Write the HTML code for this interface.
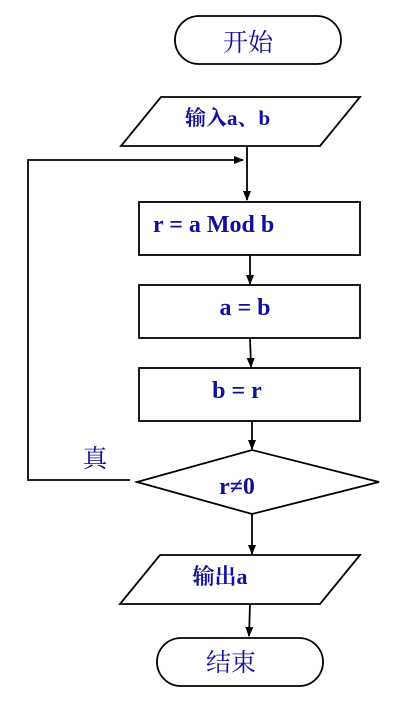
<!DOCTYPE html>
<html><head><meta charset="utf-8"><style>
html,body{margin:0;padding:0;background:#fff;}
svg{display:block;}
text{font-family:"Liberation Serif","Noto Serif CJK SC",serif;font-weight:bold;fill:#10109a;font-size:23px;}
</style></head><body>
<svg width="415" height="709" viewBox="0 0 415 709" xmlns="http://www.w3.org/2000/svg">
<defs><marker id="ah" markerWidth="10" markerHeight="10" refX="9" refY="5" orient="auto" markerUnits="userSpaceOnUse"><path d="M0,1 L10,5 L0,9 z" fill="#000"/></marker></defs>
<g stroke="#000" stroke-width="1.8" fill="none">
<rect x="175" y="16" width="166" height="48" rx="24"/>
<polygon points="161,97 360,97 320,146 121,146"/>
<line x1="247" y1="146" x2="247" y2="200" marker-end="url(#ah)"/>
<polyline points="130,480 28,480 28,160 243,160" marker-end="url(#ah)"/>
<rect x="139" y="202" width="221" height="53"/>
<line x1="250" y1="255" x2="250" y2="284" marker-end="url(#ah)"/>
<rect x="139" y="285" width="221" height="53"/>
<line x1="250" y1="338" x2="251" y2="367" marker-end="url(#ah)"/>
<rect x="139" y="368" width="221" height="53"/>
<line x1="252" y1="421" x2="252" y2="449" marker-end="url(#ah)"/>
<polygon points="137,482 252,450 379,482 252,514"/>
<line x1="252" y1="514" x2="252" y2="554" marker-end="url(#ah)"/>
<polygon points="160,555 360,555 320,604 120,604"/>
<line x1="250" y1="604" x2="249" y2="636" marker-end="url(#ah)"/>
<rect x="157" y="638" width="166" height="48" rx="24"/>
</g>
<text x="248" y="51" text-anchor="middle" style="font-weight:normal;font-size:25px">开始</text>
<text x="185" y="125" style="font-size:21px">输入a、b</text>
<text x="153" y="232" style="font-size:24px">r = a Mod b</text>
<text x="245" y="315" text-anchor="middle" style="font-size:24px">a = b</text>
<text x="237" y="398" text-anchor="middle" style="font-size:24px">b = r</text>
<text x="95" y="467" text-anchor="middle" style="font-weight:normal;font-size:25px">真</text>
<text x="237" y="494" text-anchor="middle" style="font-size:24px">r≠0</text>
<text x="220" y="584" text-anchor="middle" style="font-size:22px">输出a</text>
<text x="231" y="671" text-anchor="middle" style="font-weight:normal;font-size:25px">结束</text>
</svg>
</body></html>
